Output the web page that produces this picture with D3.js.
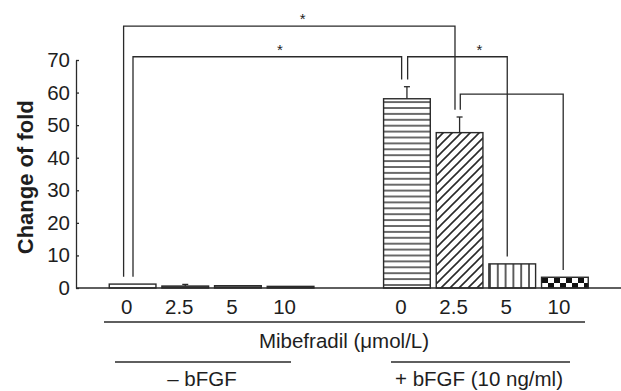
<!DOCTYPE html>
<html>
<head>
<meta charset="utf-8">
<script src="https://cdn.jsdelivr.net/npm/d3@7"></script>
<style>
  body { margin: 0; background: #fff; }
  svg text { font-family: "Liberation Sans", Arial, sans-serif; fill: #1e1e1e; }
</style>
</head>
<body>
<div id="chart"></div>
<script>
// values
const concentrations = ['0', '2.5', '5', '10', '0', '2.5', '5', '10'];
const groupLabels = ['– bFGF', '+ bFGF (10 ng/ml)'];
const barGroup = [0, 0, 0, 0, 1, 1, 1, 1];
const means = [1.2, 0.6, 0.7, 0.5, 58.1, 47.7, 7.4, 3.3];
const errors = [0.1, 0.5, 0.1, 0.1, 3.7, 4.8, 0, 0];
const yTicks = [0, 10, 20, 30, 40, 50, 60, 70];
// significance brackets: bar index a -> bar index b at height level
const brackets = [
    { a: 0, b: 5, level: 80.4, star: true },
    { a: 0, b: 4, level: 71, star: true },
    { a: 4, b: 6, level: 71, star: true },
    { a: 5, b: 7, level: 59.5, star: false }
];

const width = 621, height = 391;
const ink = '#2a2a2a';
const barW = 46.7;
const groupGap = 1.21;
const fontSize = '20.5px';

const svg = d3.select('#chart').append('svg')
    .attr('width', width)
    .attr('height', height);

// hatch patterns
const defs = svg.append('defs');
const hl = defs.append('pattern').attr('id', 'hlines')
    .attr('patternUnits', 'userSpaceOnUse').attr('width', 10).attr('height', 5.9)
    .attr('y', 0.8);
hl.append('line').attr('x1', 0).attr('x2', 10).attr('y1', 1).attr('y2', 1)
    .attr('stroke', ink).attr('stroke-width', 1.4);
const dg = defs.append('pattern').attr('id', 'diag')
    .attr('patternUnits', 'userSpaceOnUse').attr('width', 9).attr('height', 9);
dg.append('path').attr('d', 'M-1,10 L10,-1 M-2,2 L2,-2 M7,11 L11,7')
    .attr('stroke', ink).attr('stroke-width', 1.6);
const vl = defs.append('pattern').attr('id', 'vlines')
    .attr('patternUnits', 'userSpaceOnUse').attr('width', 7.8).attr('height', 10)
    .attr('x', 489);
vl.append('line').attr('x1', 1).attr('x2', 1).attr('y1', 0).attr('y2', 10)
    .attr('stroke', ink).attr('stroke-width', 1.5);
const ck = defs.append('pattern').attr('id', 'checker')
    .attr('patternUnits', 'userSpaceOnUse').attr('width', 12).attr('height', 10)
    .attr('x', 542).attr('y', 278);
ck.append('rect').attr('width', 12).attr('height', 10).attr('fill', '#fff');
ck.append('rect').attr('x', 0).attr('y', 0).attr('width', 6).attr('height', 5).attr('fill', '#111');
ck.append('rect').attr('x', 6).attr('y', 5).attr('width', 6).attr('height', 5).attr('fill', '#111');

const barFill = ['#fff', '#555', '#666', '#555',
    'url(#hlines)', 'url(#diag)', 'url(#vlines)', 'url(#checker)'];

const pos = (d, i) => i + (barGroup[i] ? groupGap : 0);
const x = d3.scaleLinear().domain([0, 7 + groupGap]).range([132.6, 564.9]);
const y = d3.scaleLinear().domain([0, 70]).range([288, 60]);

// y axis with inward ticks
const gY = svg.append('g')
    .attr('transform', 'translate(76,0)')
    .call(d3.axisLeft(y).tickValues(yTicks).tickSizeInner(-3).tickSizeOuter(0).tickPadding(6));
gY.select('.domain').attr('stroke', ink).attr('stroke-width', 1.3);
gY.selectAll('.tick line').attr('stroke', ink).attr('stroke-width', 1.3);
gY.selectAll('.tick text')
    .style('font-size', fontSize)
    .attr('fill', '#1e1e1e');

svg.append('text')
    .attr('transform', 'translate(33,' + y(34) + ') rotate(-90)')
    .attr('text-anchor', 'middle')
    .style('font-size', '22px')
    .style('font-weight', 'bold')
    .text('Change of fold');

// bars
svg.selectAll('rect.bar')
    .data(means)
    .enter()
    .append('rect')
    .attr('class', 'bar')
    .attr('x', (d, i) => x(pos(d, i)) - barW / 2)
    .attr('width', barW)
    .attr('y', d => y(d))
    .attr('height', d => y(0) - y(d))
    .attr('fill', (d, i) => barFill[i])
    .attr('stroke', ink)
    .attr('stroke-width', 1.4);

// error bars (upper half only)
const eb = svg.selectAll('g.err')
    .data(means.map((m, i) => ({ m, e: errors[i], i })).filter(d => d.e > 0.3))
    .enter().append('g').attr('class', 'err');
eb.append('line')
    .attr('x1', d => x(pos(null, d.i))).attr('x2', d => x(pos(null, d.i)))
    .attr('y1', d => y(d.m)).attr('y2', d => y(d.m + d.e))
    .attr('stroke', ink).attr('stroke-width', 1.3);
eb.append('line')
    .attr('x1', d => x(pos(null, d.i)) - 3).attr('x2', d => x(pos(null, d.i)) + 3)
    .attr('y1', d => y(d.m + d.e)).attr('y2', d => y(d.m + d.e))
    .attr('stroke', ink).attr('stroke-width', 1.3);

// x axis line
svg.append('line')
    .attr('x1', 76).attr('x2', 621)
    .attr('y1', y(0)).attr('y2', y(0))
    .attr('stroke', ink).attr('stroke-width', 1.4);

// concentration labels
svg.selectAll('text.conc')
    .data(concentrations)
    .enter()
    .append('text')
    .attr('class', 'conc')
    .attr('x', (d, i) => x(pos(d, i)) - 6)
    .attr('y', 314)
    .attr('text-anchor', 'middle')
    .style('font-size', fontSize)
    .text(d => d);

svg.append('line')
    .attr('x1', 104).attr('x2', 585).attr('y1', 322).attr('y2', 322)
    .attr('stroke', ink).attr('stroke-width', 1.3);
svg.append('text')
    .attr('x', 344).attr('y', 348)
    .attr('text-anchor', 'middle')
    .style('font-size', fontSize)
    .text('Mibefradil (μmol/L)');

// group underlines and labels
const groupSpan = [[115, 291], [391, 570]];
svg.selectAll('line.grp')
    .data(groupSpan)
    .enter().append('line')
    .attr('x1', d => d[0]).attr('x2', d => d[1])
    .attr('y1', 362).attr('y2', 362)
    .attr('stroke', ink).attr('stroke-width', 1.3);
svg.selectAll('text.grp')
    .data(groupLabels)
    .enter().append('text')
    .attr('x', (d, i) => i ? 479 : 202)
    .attr('y', 386)
    .attr('text-anchor', 'middle')
    .style('font-size', fontSize)
    .text(d => d);

// brackets
const legOffset = [[-9, -4.6], [0.4, -5.3], [0.7, -5], [0.7, -1.7]];
const starAt = [0.54, 0.547, 0.72, 0];
const topOf = i => y(means[i] + (errors[i] > 0.3 ? errors[i] : 0)) - 7.3;
brackets.forEach((b, k) => {
    const xa = x(pos(null, b.a)) + legOffset[k][0];
    const xb = x(pos(null, b.b)) + legOffset[k][1];
    const yl = y(b.level);
    svg.append('path')
        .attr('d', 'M' + xa + ',' + topOf(b.a) + 'V' + yl + 'H' + xb + 'V' + topOf(b.b))
        .attr('fill', 'none')
        .attr('stroke', ink)
        .attr('stroke-width', 1.3);
    if (b.star) {
        svg.append('text')
            .attr('x', xa + (xb - xa) * starAt[k])
            .attr('y', yl - 2)
            .attr('text-anchor', 'middle')
            .style('font-size', '15px')
            .text('*');
    }
});
</script>
</body>
</html>
